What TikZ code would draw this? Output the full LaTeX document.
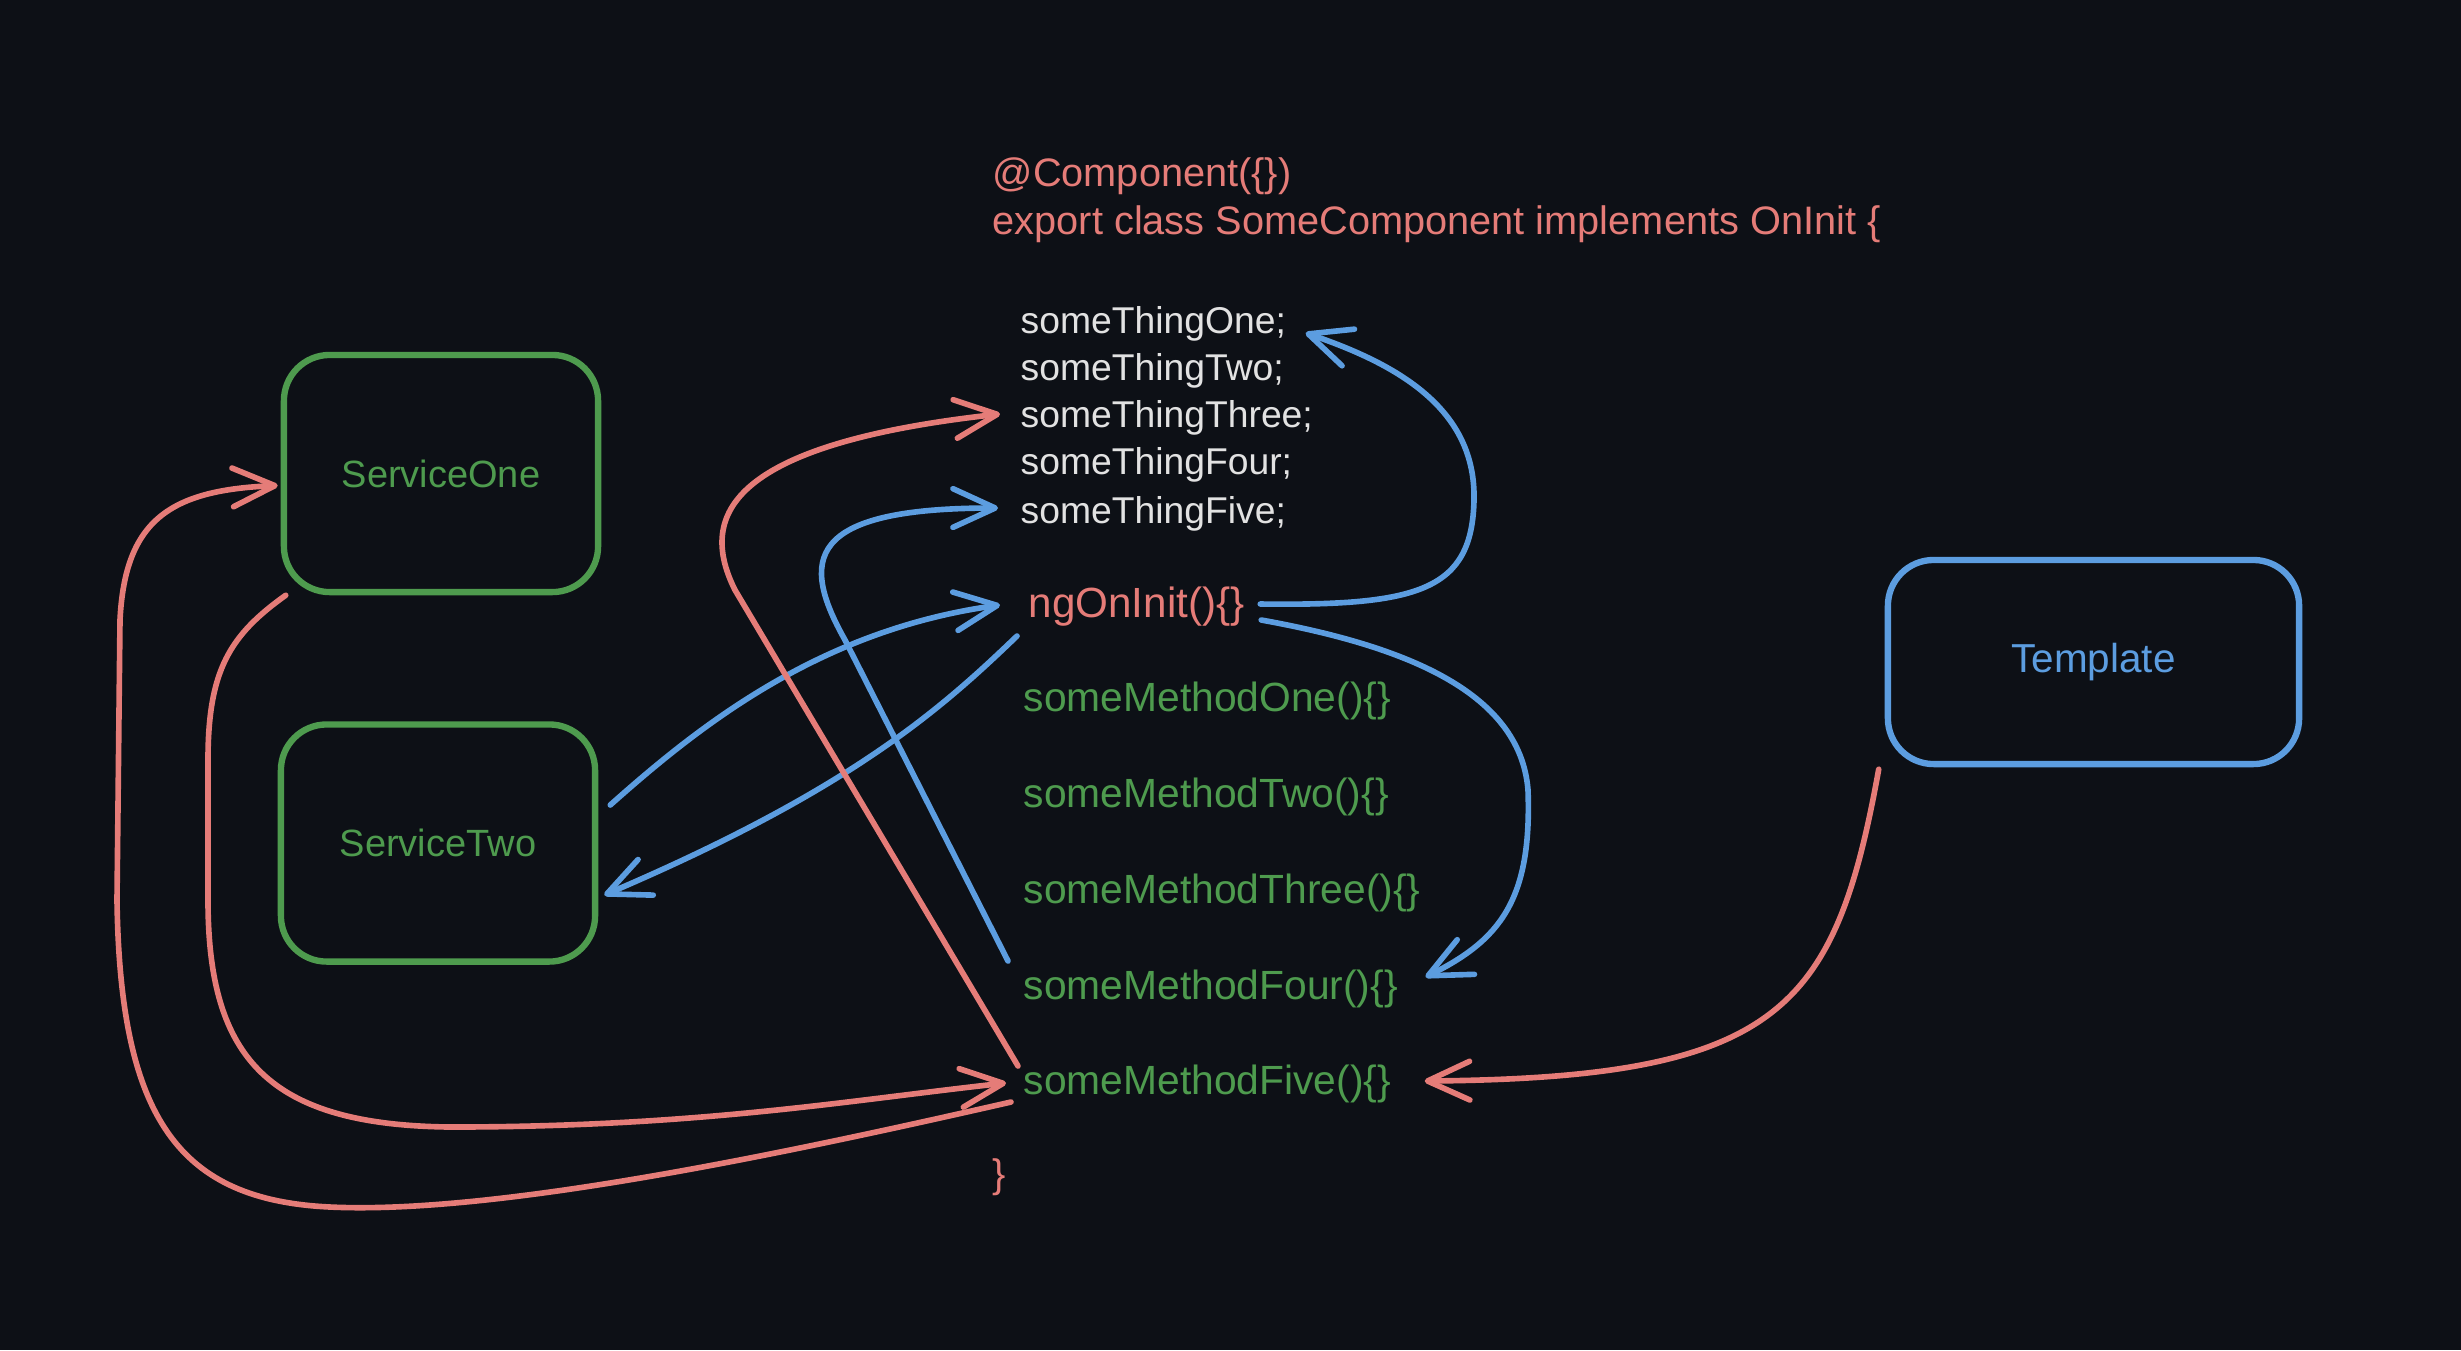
\documentclass[tikz,border=0pt]{standalone}
\usepackage{fontspec}
\setmainfont{Liberation Sans}
\usetikzlibrary{arrows.meta,calc}
\definecolor{bgc}{HTML}{0D1016}
\definecolor{redc}{HTML}{E57C78}
\definecolor{bluec}{HTML}{5C9DE0}
\definecolor{greenc}{HTML}{4E9B4E}
\definecolor{fieldc}{HTML}{E2E2E2}
\begin{document}
\begin{tikzpicture}[x=0.01cm,y=-0.01cm,
  txt/.style={anchor=west,inner sep=0pt,text height=7.5pt,text depth=0pt},
  header/.style={txt,text=redc,font=\fontsize{11.3}{13}\selectfont},
  field/.style={txt,text=fieldc,font=\fontsize{10.6}{12}\selectfont},
  initm/.style={txt,text=redc,font=\fontsize{12}{14}\selectfont},
  method/.style={txt,text=greenc,font=\fontsize{11.6}{14}\selectfont},
  svc/.style={draw=greenc,line width=1.8pt,rounded corners=13pt,minimum width=3.14cm,minimum height=2.37cm,text=greenc,font=\fontsize{10.8}{13}\selectfont,inner sep=0pt},
  tmpl/.style={draw=bluec,line width=1.8pt,rounded corners=13pt,minimum width=4.11cm,minimum height=2.04cm,text=bluec,font=\fontsize{11.5}{13}\selectfont,inner sep=0pt},
  conn/.style={line width=1.6pt,line cap=round,line join=round,-{Straight Barb[length=12pt,width=11pt,line cap=round,line join=round]}},
  redarrow/.style={conn,draw=redc},
  bluearrow/.style={conn,draw=bluec}]
\fill[bgc] (0,0) rectangle (2461,1350);
% header
\node[header] (comp) at (992,173) {@Component(\{\})};
\node[header] (cls) at (992,221) {export class SomeComponent implements OnInit \{};
% fields
\node[field] (f1) at (1020,320) {someThingOne;};
\node[field] (f2) at (1020,367) {someThingTwo;};
\node[field] (f3) at (1020,414) {someThingThree;};
\node[field] (f4) at (1020,461) {someThingFour;};
\node[field] (f5) at (1020,510) {someThingFive;};
% methods
\node[initm] (ngi) at (1028,604) {ngOnInit()\{\}};
\node[method] (m1) at (1023,698) {someMethodOne()\{\}};
\node[method] (m2) at (1023,794) {someMethodTwo()\{\}};
\node[method] (m3) at (1023,890) {someMethodThree()\{\}};
\node[method] (m4) at (1023,986) {someMethodFour()\{\}};
\node[method] (m5) at (1023,1081) {someMethodFive()\{\}};
\node[header] (close) at (992,1174) {\}};
% boxes
\node[svc] (s1) at (441,473.5) {ServiceOne};
\node[svc] (s2) at (438,843) {ServiceTwo};
\node[tmpl] (tpl) at (2093.5,662) {Template};
% blue connectors
\draw[bluearrow] ($(ngi.east)+(15,0)$) .. controls (1420,606) and (1472,590) .. (1474,500)
  .. controls (1476,410) and (1400,365) .. ($(f1.east)+(19,13)$);
\draw[bluearrow] ($(ngi.east)+(16,16)$) .. controls (1400,645) and (1520,690) .. (1528,790)
  .. controls (1532,900) and (1500,940) .. ($(m4.east)+(27,-9)$);
\draw[bluearrow] ($(s2.east)+(12,-38)$) .. controls (700,725) and (820,630) .. ($(ngi.west)+(-28,1)$);
\draw[bluearrow] ($(ngi.west)+(-11,32)$) .. controls (940,710) and (850,790) .. ($(s2.east)+(6,52)$);
\draw[bluearrow] ($(m4.west)+(-15,-25)$) -- (845,640) .. controls (800,560) and (805,508) .. ($(f5.west)+(-22,-2)$);
% red connectors
\draw[redarrow] ($(m5.west)+(-5,-15)$) -- (735,590) .. controls (700,520) and (720,445) .. ($(f3.west)+(-20,0)$);
\draw[redarrow] ($(s1.south west)+(5,0)$) .. controls (230,635) and (208,670) .. (208,760) -- (208,900)
  .. controls (208,1060) and (270,1125) .. (450,1127) .. controls (700,1127) and (850,1100) .. ($(m5.west)+(-17,2)$);
\draw[redarrow] ($(m5.west)+(-12,21)$) .. controls (800,1150) and (500,1215) .. (330,1207)
  .. controls (180,1200) and (120,1120) .. (117,900) -- (120,620)
  .. controls (125,520) and (170,490) .. ($(s1.west)+(-3,12)$);
\draw[redarrow] ($(tpl.south west)+(-6,2)$) .. controls (1835,1010) and (1780,1078) .. ($(m5.east)+(33,0)$);
\end{tikzpicture}
\end{document}
